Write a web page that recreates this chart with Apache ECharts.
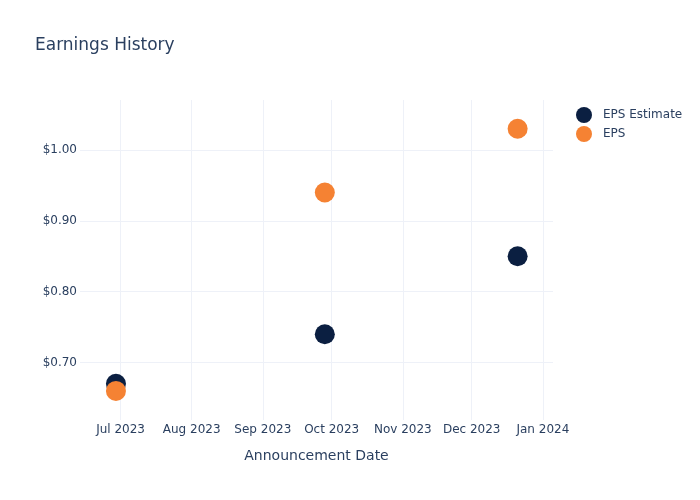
<!DOCTYPE html>
<html>
<head>
<meta charset="utf-8">
<script src="https://cdn.jsdelivr.net/npm/echarts@6/dist/echarts.min.js"></script>
<style>html,body{margin:0;padding:0;background:#fff}#c{width:700px;height:500px}</style>
</head>
<body>
<div id="c"></div>
<script>
const dates = ['2023-06-29', '2023-09-28', '2023-12-21'];
const epsEstimate = [0.67, 0.74, 0.85];
const eps = [0.66, 0.94, 1.03];
const monthNames = ['Jan','Feb','Mar','Apr','May','Jun','Jul','Aug','Sep','Oct','Nov','Dec'];

const xMin = Date.UTC(2023, 5, 13, 8);
const xMax = Date.UTC(2024, 0, 5, 10);
const font = 'DejaVu Sans, Verdana, sans-serif';
const textColor = '#2a3f5f';
const gridColor = '#eef1f8';

const toTs = d => { const p = d.split('-').map(Number); return Date.UTC(p[0], p[1]-1, p[2]); };

const chart = echarts.init(document.getElementById('c'), null, {renderer: 'canvas'});
chart.setOption({
  animation: false,
  backgroundColor: '#fff',
  title: {
    text: 'Earnings History',
    left: 35, top: 37, padding: 0,
    textStyle: {fontFamily: font, fontSize: 17, fontWeight: 'normal', color: textColor}
  },
  legend: {
    orient: 'vertical',
    left: 571, top: 102,
    itemWidth: 16, itemHeight: 16, itemGap: 3,
    icon: 'circle',
    textStyle: {fontFamily: font, fontSize: 12, color: textColor, padding: [0, 0, 0, 6]},
    data: ['EPS Estimate', 'EPS']
  },
  grid: {left: 80, right: 147, top: 100, bottom: 80, containLabel: false},
  xAxis: {
    type: 'time',
    useUTC: true,
    min: xMin, max: xMax,
    splitNumber: 7,
    minInterval: 28 * 86400000,
    name: 'Announcement Date',
    nameLocation: 'middle',
    nameGap: 29,
    nameTextStyle: {fontFamily: font, fontSize: 14, color: textColor},
    axisLine: {show: false},
    axisTick: {show: false},
    axisLabel: {
      fontFamily: font, fontSize: 12, color: textColor, margin: 4,
      showMinLabel: false, showMaxLabel: false,
      formatter: v => { const d = new Date(v); return monthNames[d.getUTCMonth()] + ' ' + d.getUTCFullYear(); }
    },
    splitLine: {show: true, showMinLine: false, showMaxLine: false, lineStyle: {color: gridColor, width: 1}}
  },
  yAxis: {
    type: 'value',
    min: 0.619, max: 1.0705,
    splitNumber: 5,
    axisLine: {show: false},
    axisTick: {show: false},
    axisLabel: {
      fontFamily: font, fontSize: 12, color: textColor, margin: 3,
      showMinLabel: false, showMaxLabel: false,
      formatter: v => '$' + v.toFixed(2)
    },
    splitLine: {show: true, showMinLine: false, showMaxLine: false, lineStyle: {color: gridColor, width: 1}}
  },
  series: [
    {
      name: 'EPS Estimate', type: 'scatter', symbolSize: 20,
      itemStyle: {color: '#0b1f41', opacity: 1},
      data: dates.map((d, i) => [toTs(d), epsEstimate[i]])
    },
    {
      name: 'EPS', type: 'scatter', symbolSize: 20,
      itemStyle: {color: '#f58233', opacity: 1},
      data: dates.map((d, i) => [toTs(d), eps[i]])
    }
  ]
});
</script>
</body>
</html>
